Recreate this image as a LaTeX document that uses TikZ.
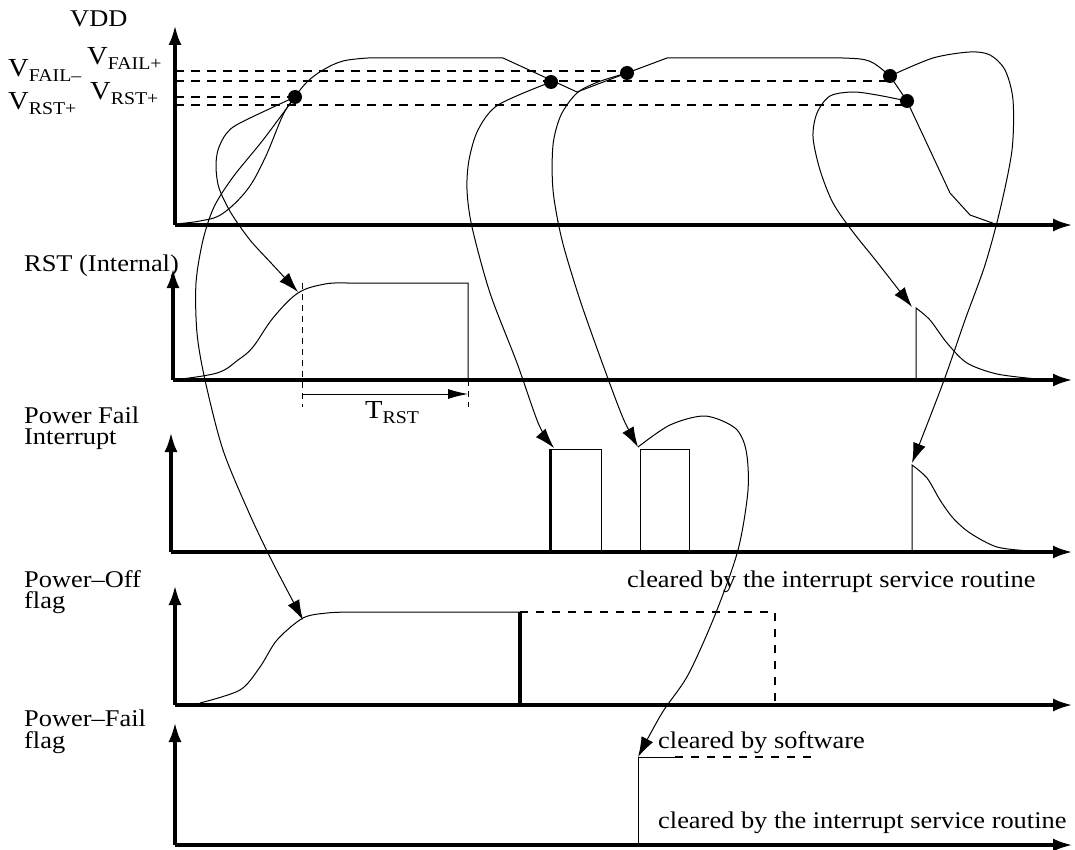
\documentclass[tikz,border=0pt]{standalone}
\usepackage{fontspec}
\setmainfont{Liberation Serif}[FakeStretch=1.1]
\usetikzlibrary{arrows.meta}
\newcommand{\lblfont}{\fontsize{24}{21.5}\selectfont}
\newcommand{\levname}[2]{{\fontsize{26}{26}\selectfont #1}\raisebox{-5pt}{\fontsize{18}{18}\selectfont #2}}

\begin{document}
\begin{tikzpicture}[x=1pt, y=-1pt, >=Latex,
    sigaxis/.style={line width=3.8pt, -{Latex[length=20pt, width=13pt]}},
    thresh/.style={line width=2.8pt, dash pattern=on 9pt off 7pt},
    wave/.style={line width=1pt},
    cause/.style={line width=1pt, -{Latex[length=20pt, width=13pt]}},
    crossdot/.style={circle, fill, inner sep=0pt, minimum size=14pt},
    lab/.style={inner sep=0pt, font=\lblfont, align=left},
    rstmark/.style={line width=1pt, dash pattern=on 6pt off 5pt},
    offdash/.style={line width=2.2pt, dash pattern=on 8pt off 8pt}]
  \useasboundingbox (0,0) rectangle (1075,850);

  % labels on the left
  \node[lab, anchor=base west] (vdd) at (70,27) {VDD};
  \node[anchor=base west, inner sep=0pt] (vfailp) at (87,65) {\levname{V}{FAIL+}};
  \node[anchor=base west, inner sep=0pt] (vfailm) at (8,77) {\levname{V}{FAIL–}};
  \node[anchor=base west, inner sep=0pt] (vrstp) at (90,100) {\levname{V}{RST+}};
  \node[anchor=base west, inner sep=0pt] (vrstm) at (8,110) {\levname{V}{RST+}};
  \node[lab, anchor=base west] (rstlab) at (24,271) {RST (Internal)};
  \node[lab, anchor=north west] (pfilab) at (24,406.5) {Power Fail\\Interrupt};
  \node[lab, anchor=north west] (offlab) at (24,570) {Power–Off\\flag};
  \node[lab, anchor=north west] (faillab) at (24,710) {Power–Fail\\flag};

  % threshold levels
  \draw[thresh] (175,71) -- (627,71);
  \draw[thresh] (175,81) -- (890,81);
  \draw[thresh] (175,97) -- (295,97);
  \draw[thresh] (175,105) -- (907,105);

  % VDD
  \draw[wave] plot[smooth, tension=0.6] coordinates {(175,224) (200,221) (222,214)
      (247,190) (265,158) (283,115) (295,97) (307,82) (323,70) (343,61) (368,58)}
    -- (503,58) -- (577,92) -- (627,73) -- (667,58) -- (843,58)
    .. controls (870,59) .. (890,76) -- (907,101) -- (950,193) -- (970,215) -- (998,225);
  \node[crossdot] (vr1) at (295,97) {};
  \node[crossdot] (vf1) at (551,82) {};
  \node[crossdot] (vf2) at (627,73) {};
  \node[crossdot] (vf3) at (890,76) {};
  \node[crossdot] (vr2) at (907,101) {};

  % RST (Internal)
  \draw[wave] plot[smooth, tension=0.6] coordinates {(173,380) (217,373) (238,360)
      (253,347) (273,318) (298,293) (325,284) (347,283)} -- (468,283) -- (468,380);
  \draw[rstmark] (302,283) -- (302,407);
  \draw[rstmark] (468,380) -- (468,407);
  \draw[wave, -{Latex[length=20pt, width=10pt]}] (302,394) -- (468,394);
  \node[anchor=base west, inner sep=0pt] (trst) at (365,418) {\levname{T}{RST}};
  \draw[wave] (916,380) -- plot[smooth] coordinates {(916,308) (930,320) (947,343)
      (967,363) (997,374) (1037,379)};

  % Power Fail Interrupt
  \draw[wave] (550,449) -- (601,449) -- (601,552);
  \draw[line width=3pt] (550,552) -- (550,449);
  \draw[wave] (640,552) -- (640,449) -- (689,449) -- (689,552);
  \draw[wave] (912,552) -- plot[smooth] coordinates {(912,465) (927,478) (940,500)
      (953,518) (970,533) (997,547) (1030,551)};
  \node[lab, anchor=base west] (isr1) at (627,587) {cleared by the interrupt service routine};

  % Power-Off flag
  \draw[wave] plot[smooth] coordinates {(200,703) (240,690) (260,667) (277,640)
      (303,618) (327,613) (350,612)} -- (520,612);
  \draw[line width=4.5pt] (520,705) -- (520,612);
  \draw[offdash] (520,612) -- (775,612) -- (775,705);

  % Power-Fail flag
  \draw[wave] (638,845) -- (638,757) -- (675,757);
  \draw[offdash] (675,757) -- (813,757);
  \node[lab, anchor=base west] (swclr) at (658,748) {cleared by software};
  \node[lab, anchor=base west] (isr2) at (658,828) {cleared by the interrupt service routine};

  % axes
  \draw[sigaxis] (175,225) -- (175,25);
  \draw[sigaxis] (175,225) -- (1073,225);
  \draw[sigaxis] (173,380) -- (173,268);
  \draw[sigaxis] (173,380) -- (1073,380);
  \draw[sigaxis] (171,552) -- (171,432);
  \draw[sigaxis] (171,552) -- (1073,552);
  \draw[sigaxis] (175,705) -- (175,585);
  \draw[sigaxis] (175,705) -- (1073,705);
  \draw[sigaxis] (175,845) -- (175,722);
  \draw[sigaxis] (175,845) -- (1073,845);

  % cause and effect
  \coordinate (rstup) at (298,292);
  \coordinate (offup) at (303,620);
  \coordinate (pfia) at (554,448);
  \coordinate (pfib) at (638,447);
  \coordinate (failup) at (638,757);
  \coordinate (pfic) at (912,463);
  \coordinate (rstspk) at (912,307);
  \draw[cause] plot[smooth] coordinates {(vr1.center) (240,123) (226,134) (218,150)
      (216,167) (219,188) (231,213) (250,240) (272,264) (rstup)};
  \draw[cause] plot[smooth] coordinates {(vr1.center) (263,140) (233,177) (214,207)
      (203,240) (196,283) (197,333) (205,380) (223,450) (250,515) (274,565) (offup)};
  \draw[cause] plot[smooth] coordinates {(vf1.center) (498,105) (478,130) (469,160)
      (467,190) (472,227) (490,293) (517,363) (539,425) (pfia)};
  \draw[cause] plot[smooth] coordinates {(vf2.center) (598,82) (577,93) (561,115)
      (553,145) (553,190) (562,240) (580,300) (603,365) (623,418) (pfib)};
  \draw[cause] plot[smooth] coordinates {(pfib) (670,425) (705,416) (735,428)
      (746,450) (748,490) (738,550) (715,615) (688,675) (662,713) (failup)};
  \draw[cause] plot[smooth] coordinates {(vf3.center) (933,58) (970,52) (990,55)
      (1005,70) (1013,100) (1012,150) (1000,210) (985,265) (965,320) (943,383) (pfic)};
  \draw[cause] plot[smooth] coordinates {(vr2.center) (877,95) (853,92) (830,96)
      (817,113) (813,137) (820,170) (833,203) (853,232) (877,262) (rstspk)};
\end{tikzpicture}
\end{document}
